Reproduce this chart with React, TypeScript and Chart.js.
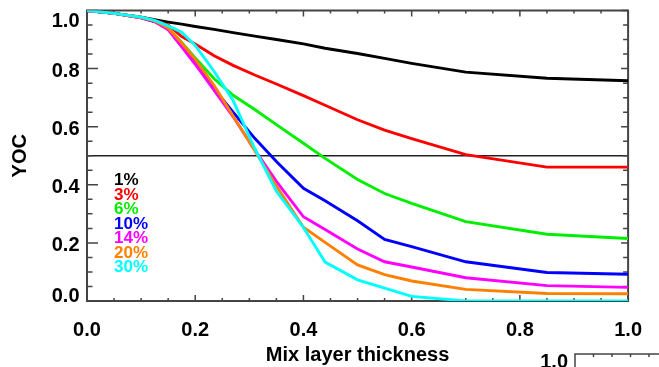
import React, { useEffect, useRef } from "react";
import { Chart, registerables } from "chart.js";

Chart.register(...registerables);

// Mixed-layer thickness grid shared by every curve
const thickness = [0, 0.05, 0.1, 0.125, 0.15, 0.175, 0.2, 0.235, 0.27, 0.31, 0.35, 0.4, 0.44, 0.5, 0.55, 0.6, 0.7, 0.85, 1.0];

// YOC for each mixing fraction
const yoc1 = [1.0, 0.99, 0.977, 0.968, 0.96, 0.953, 0.945, 0.935, 0.924, 0.912, 0.9, 0.885, 0.87, 0.852, 0.835, 0.818, 0.788, 0.767, 0.758];
const yoc3 = [1.0, 0.99, 0.977, 0.966, 0.95, 0.91, 0.885, 0.844, 0.811, 0.778, 0.747, 0.707, 0.674, 0.624, 0.588, 0.559, 0.504, 0.461, 0.461];
const yoc6 = [1.0, 0.99, 0.976, 0.962, 0.938, 0.89, 0.837, 0.765, 0.708, 0.659, 0.607, 0.543, 0.491, 0.418, 0.37, 0.336, 0.273, 0.23, 0.215];
const yoc10 = [1.0, 0.99, 0.975, 0.962, 0.936, 0.878, 0.82, 0.73, 0.65, 0.56, 0.48, 0.388, 0.345, 0.276, 0.212, 0.187, 0.135, 0.098, 0.092];
const yoc14 = [1.0, 0.99, 0.975, 0.962, 0.934, 0.875, 0.815, 0.725, 0.635, 0.52, 0.412, 0.29, 0.246, 0.179, 0.135, 0.117, 0.08, 0.053, 0.047];
const yoc20 = [1.0, 0.99, 0.976, 0.964, 0.94, 0.888, 0.832, 0.742, 0.637, 0.518, 0.396, 0.254, 0.202, 0.124, 0.091, 0.069, 0.04, 0.026, 0.025];
const yoc30 = [1.0, 0.99, 0.977, 0.966, 0.947, 0.925, 0.88, 0.79, 0.69, 0.525, 0.378, 0.253, 0.134, 0.073, 0.044, 0.016, 0.0, 0.0, 0.0];

const seriesLabels = ["1%", "3%", "6%", "10%", "14%", "20%", "30%"];
const seriesValues = [yoc1, yoc3, yoc6, yoc10, yoc14, yoc20, yoc30];
const seriesColors = ["#000000", "#ff0000", "#00ee00", "#0000ff", "#ff00ff", "#ff8000", "#00ffff"];

const yTickValues = [0, 0.2, 0.4, 0.6, 0.8, 1.0];
const referenceYoc = 0.5;

// Placement of the in-plot key, in data units
const keyX = 0.05;
const keyTopY = 0.42;
const keyStepY = 0.05;

const FONT = "'Liberation Sans', Arial, Helvetica, sans-serif";
const AXIS_COLOR = "#444444";

const framePlugin = {
  id: "idlFrame",
  beforeDatasetsDraw(chart: any) {
    const { ctx, chartArea: a, scales } = chart;
    const x = scales.x;
    const y = scales.y;
    ctx.save();

    // horizontal reference line
    const yr = y.getPixelForValue(referenceYoc);
    ctx.strokeStyle = "#222222";
    ctx.lineWidth = 1.3;
    ctx.beginPath();
    ctx.moveTo(a.left, yr);
    ctx.lineTo(a.right, yr);
    ctx.stroke();

    // box
    ctx.strokeStyle = AXIS_COLOR;
    ctx.lineWidth = 2;
    ctx.strokeRect(a.left, a.top, a.right - a.left, a.bottom - a.top);

    // inward ticks on all four sides, minor every 0.05
    ctx.lineWidth = 1.5;
    ctx.beginPath();
    for (let i = 0; i <= 20; i++) {
      const v = i * 0.05;
      const major = i % 4 === 0;
      const px = x.getPixelForValue(v);
      const py = y.getPixelForValue(v);
      const xl = major ? 6 : 3;
      ctx.moveTo(px, a.bottom);
      ctx.lineTo(px, a.bottom - xl);
      ctx.moveTo(px, a.top);
      ctx.lineTo(px, a.top + xl);
      const yl = major ? 11 : 5.5;
      ctx.moveTo(a.left, py);
      ctx.lineTo(a.left + yl, py);
      const yr2 = major ? 7 : 5;
      ctx.moveTo(a.right, py);
      ctx.lineTo(a.right - yr2, py);
    }
    ctx.stroke();
    ctx.restore();
  },
  afterDraw(chart: any) {
    const { ctx, chartArea: a, scales, width, height } = chart;
    const x = scales.x;
    const y = scales.y;
    ctx.save();

    // y tick labels
    ctx.font = `bold 20px ${FONT}`;
    ctx.fillStyle = "#000000";
    ctx.textAlign = "right";
    ctx.textBaseline = "alphabetic";
    yTickValues.forEach((v, i) => {
      let shift = 1;
      if (i === 0) shift = -6;
      if (i === yTickValues.length - 1) shift = 9.5;
      const py = y.getPixelForValue(v) + shift + 7.2;
      ctx.fillText(v.toFixed(1), a.left - 7.5, py);
    });

    // key of mixing fractions
    ctx.font = `bold 17px ${FONT}`;
    ctx.textAlign = "left";
    seriesLabels.forEach((lab, i) => {
      ctx.fillStyle = seriesColors[i];
      const px = x.getPixelForValue(keyX);
      const py = y.getPixelForValue(keyTopY - i * keyStepY) + 6;
      ctx.fillText(lab, px, py);
    });

    // edge of the neighbouring panel
    ctx.fillStyle = "#000000";
    ctx.font = `bold 20px ${FONT}`;
    ctx.textAlign = "right";
    ctx.fillText("1.0", width - 91, height + 0.5);
    ctx.strokeStyle = AXIS_COLOR;
    ctx.lineWidth = 1.5;
    ctx.beginPath();
    const bx = width - 84;
    const by = height - 13;
    ctx.moveTo(bx, height);
    ctx.lineTo(bx, by);
    ctx.lineTo(width, by);
    for (let k = 1; k <= 4; k++) {
      const tx = bx + k * 18.5;
      ctx.moveTo(tx, by);
      ctx.lineTo(tx, by + 3);
    }
    ctx.stroke();
    ctx.restore();
  },
};

export default function App() {
  const canvasRef = useRef<HTMLCanvasElement | null>(null);

  useEffect(() => {
    const canvas = canvasRef.current;
    if (!canvas) return;
    const n = seriesValues.length;
    const chart = new Chart(canvas, {
      type: "line",
      data: {
        datasets: seriesValues.map((vals, i) => ({
          label: seriesLabels[i],
          data: thickness.map((t, j) => ({ x: t, y: vals[j] })),
          borderColor: seriesColors[i],
          backgroundColor: seriesColors[i],
          borderWidth: 2.9,
          pointRadius: 0,
          tension: 0,
          fill: false,
          order: n - 1 - i,
        })),
      },
      options: {
        responsive: false,
        animation: false,
        devicePixelRatio: 1,
        events: [],
        layout: { padding: { top: 10.5, right: 15.5, left: 0, bottom: 0 } },
        plugins: {
          legend: { display: false },
          tooltip: { enabled: false },
        },
        scales: {
          x: {
            type: "linear",
            min: 0,
            max: 1,
            grid: { display: false, drawTicks: false },
            border: { display: false },
            ticks: {
              stepSize: 0.2,
              autoSkip: false,
              maxRotation: 0,
              padding: 17,
              color: "#000000",
              font: { family: FONT, size: 20, weight: "bold" },
              callback: (v: any) => Number(v).toFixed(1),
            },
            title: {
              display: true,
              text: "Mix layer thickness",
              color: "#000000",
              font: { family: FONT, size: 20, weight: "bold" },
              padding: { top: 0, bottom: 0 },
            },
            afterFit: (scale: any) => {
              scale.height = 66;
            },
          },
          y: {
            type: "linear",
            min: 0,
            max: 1,
            grid: { display: false, drawTicks: false },
            border: { display: false },
            ticks: { display: false },
            title: {
              display: true,
              text: "YOC",
              color: "#000000",
              font: { family: FONT, size: 20, weight: "bold" },
              padding: { top: 8, bottom: 0 },
            },
            afterFit: (scale: any) => {
              scale.width = 87;
            },
          },
        },
      },
      plugins: [framePlugin],
    });
    return () => chart.destroy();
  }, []);

  return (
    <div style={{ position: "absolute", left: 0, top: 0, width: 659, height: 367, background: "#ffffff" }}>
      <canvas ref={canvasRef} width={659} height={367} style={{ display: "block" }} />
    </div>
  );
}
